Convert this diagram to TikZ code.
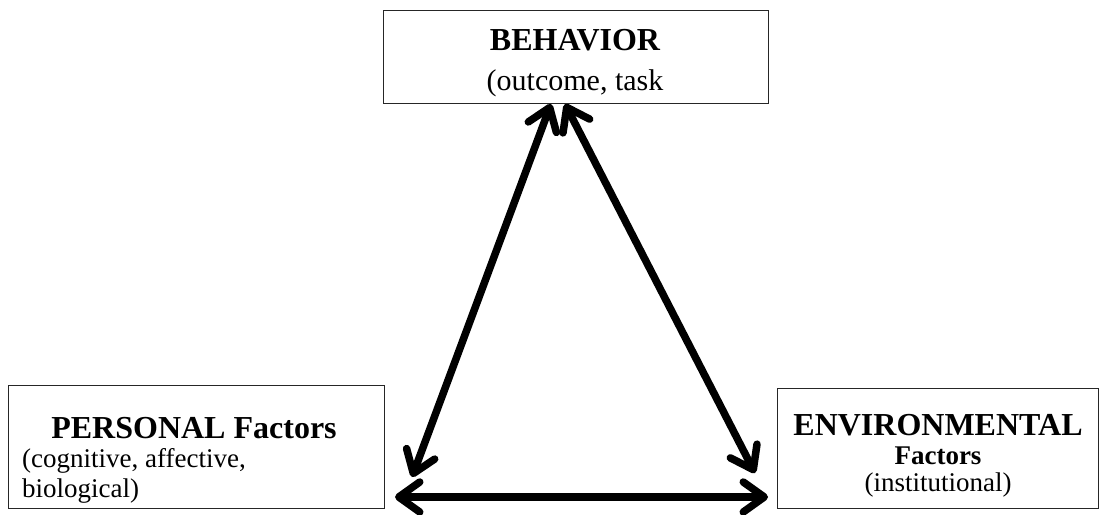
\documentclass[tikz,border=0pt]{standalone}
\usepackage{fontspec}
\setmainfont{Liberation Serif}
\usetikzlibrary{arrows.meta}
\tikzset{
    factorbox/.style={draw=black!85,line width=1.3pt,anchor=north west,inner sep=0pt},
    headtext/.style={font=\fontsize{32}{38}\selectfont\bfseries,anchor=base,inner sep=0pt},
    subtext/.style={font=\fontsize{27}{32}\selectfont,anchor=base,inner sep=0pt},
    linkarrow/.style={line width=7.5pt,line cap=round,
        {Straight Barb[length=21pt,width=30pt,round]}-{Straight Barb[length=21pt,width=30pt,round]}}
}
\begin{document}
\begin{tikzpicture}[x=1pt,y=-1pt]
    \useasboundingbox[fill=white] (0,0) rectangle (1102,514);

    % the three boxes
    \node[factorbox,minimum width=385pt,minimum height=93pt] (behavior) at (383,10) {};
    \node[factorbox,minimum width=376pt,minimum height=123pt] (personal) at (8,385) {};
    \node[factorbox,minimum width=321pt,minimum height=120pt] (environ) at (777,388) {};

    % behavior text
    \node[headtext] (behhead) at (575,50) {BEHAVIOR};
    \node[subtext,font=\fontsize{30}{36}\selectfont] (behsub) at (575,90) {(outcome, task};

    % personal text
    \node[headtext] (perhead) at (194,438) {PERSONAL Factors};
    \node[subtext,anchor=base west] (persub1) at (22,467) {(cognitive, affective,};
    \node[subtext,anchor=base west] (persub2) at (22,497) {biological)};

    % environmental text
    \node[headtext] (envhead) at (938,435) {ENVIRONMENTAL};
    \node[subtext,font=\fontsize{27}{32}\selectfont\bfseries] (envsub1) at (938,464) {Factors};
    \node[subtext] (envsub2) at (938,491) {(institutional)};

    % arrow ends
    \coordinate (topl) at (551,104);
    \coordinate (topr) at (565,104);
    \coordinate (perup) at (412,477);
    \coordinate (envup) at (755,473);
    \coordinate (perlow) at (395,497);
    \coordinate (envlow) at (768,497);

    % links between the factors
    \draw[linkarrow] (topl) -- (perup);
    \draw[linkarrow] (topr) -- (envup);
    \draw[linkarrow] (perlow) -- (envlow);
\end{tikzpicture}
\end{document}
